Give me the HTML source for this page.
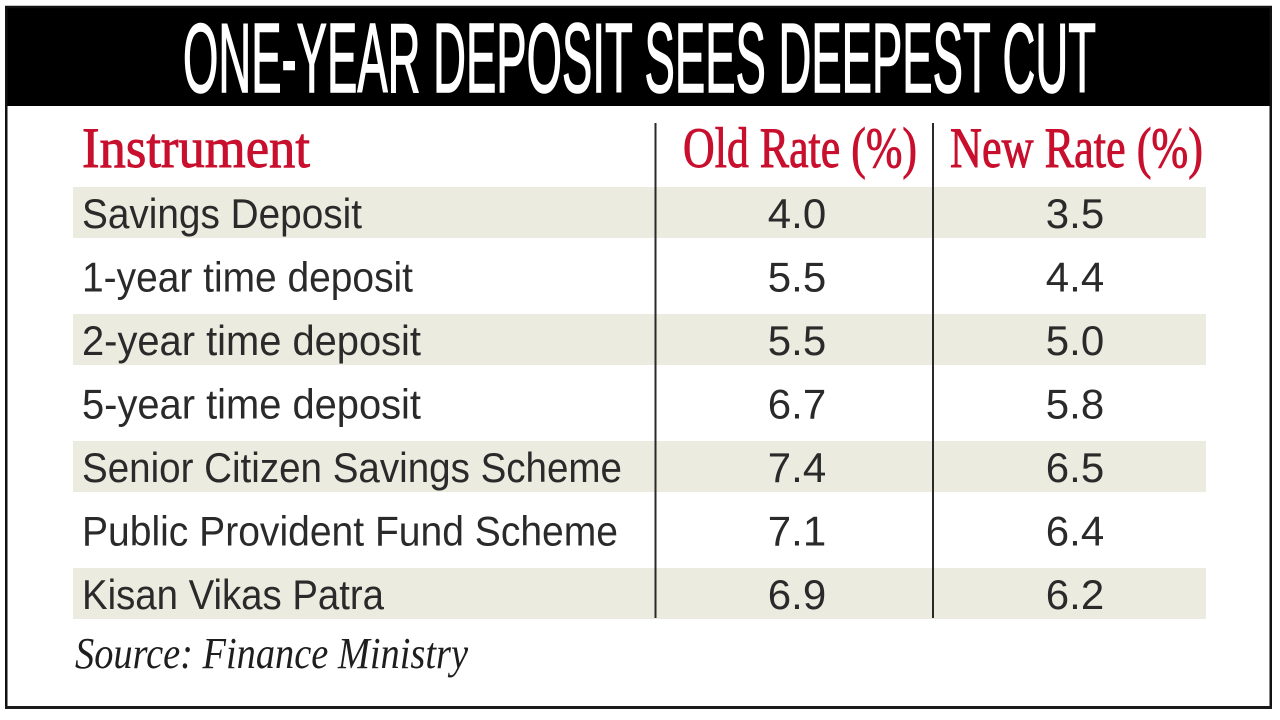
<!DOCTYPE html>
<html>
<head>
<meta charset="utf-8">
<style>
  html, body { margin: 0; padding: 0; background: #fff; }
  body { width: 1280px; height: 720px; overflow: hidden; }
  svg { display: block; }
</style>
</head>
<body>
<svg width="1280" height="720" viewBox="0 0 1280 720" xmlns="http://www.w3.org/2000/svg">
  <rect x="0" y="0" width="1280" height="720" fill="#ffffff"/>
  <!-- header bar -->
  <rect x="5" y="6" width="1267" height="100" fill="#000000"/>
  <text x="183" y="92" font-family="Liberation Sans, sans-serif" font-size="98" fill="#ffffff" stroke="#ffffff" stroke-width="1.6" textLength="913" lengthAdjust="spacingAndGlyphs">ONE-YEAR DEPOSIT SEES DEEPEST CUT</text>

  <!-- stripes -->
  <g fill="#ebebdf">
    <rect x="73" y="187" width="1133" height="51"/>
    <rect x="73" y="314" width="1133" height="51"/>
    <rect x="73" y="441" width="1133" height="51"/>
    <rect x="73" y="568" width="1133" height="51"/>
  </g>

  <!-- header labels -->
  <g font-family="Liberation Serif, serif" font-size="57" fill="#c8102e" stroke="#c8102e" stroke-width="0.9">
    <text x="82" y="167" textLength="228" lengthAdjust="spacingAndGlyphs">Instrument</text>
    <text x="683" y="167" textLength="234" lengthAdjust="spacingAndGlyphs">Old Rate (%)</text>
    <text x="950" y="167" textLength="253" lengthAdjust="spacingAndGlyphs">New Rate (%)</text>
  </g>

  <!-- dividers -->
  <rect x="654.5" y="123" width="2" height="495" fill="#2a2a2a"/>
  <rect x="932" y="123" width="2" height="495" fill="#2a2a2a"/>

  <!-- row labels -->
  <g font-family="Liberation Sans, sans-serif" font-size="42" fill="#2a2a2a">
    <text x="82" y="228" textLength="280" lengthAdjust="spacingAndGlyphs">Savings Deposit</text>
    <text x="82" y="291.5" textLength="331" lengthAdjust="spacingAndGlyphs">1-year time deposit</text>
    <text x="82" y="355" textLength="339" lengthAdjust="spacingAndGlyphs">2-year time deposit</text>
    <text x="82" y="418.5" textLength="339" lengthAdjust="spacingAndGlyphs">5-year time deposit</text>
    <text x="82" y="482" textLength="540" lengthAdjust="spacingAndGlyphs">Senior Citizen Savings Scheme</text>
    <text x="82" y="545.5" textLength="536" lengthAdjust="spacingAndGlyphs">Public Provident Fund Scheme</text>
    <text x="82" y="609" textLength="302" lengthAdjust="spacingAndGlyphs">Kisan Vikas Patra</text>
  </g>

  <!-- old rates -->
  <g font-family="Liberation Sans, sans-serif" font-size="42" fill="#2a2a2a" text-anchor="middle">
    <text x="797" y="228">4.0</text>
    <text x="797" y="291.5">5.5</text>
    <text x="797" y="355">5.5</text>
    <text x="797" y="418.5">6.7</text>
    <text x="797" y="482">7.4</text>
    <text x="797" y="545.5">7.1</text>
    <text x="797" y="609">6.9</text>
  </g>
  <!-- new rates -->
  <g font-family="Liberation Sans, sans-serif" font-size="42" fill="#2a2a2a" text-anchor="middle">
    <text x="1075" y="228">3.5</text>
    <text x="1075" y="291.5">4.4</text>
    <text x="1075" y="355">5.0</text>
    <text x="1075" y="418.5">5.8</text>
    <text x="1075" y="482">6.5</text>
    <text x="1075" y="545.5">6.4</text>
    <text x="1075" y="609">6.2</text>
  </g>

  <!-- source -->
  <text x="75" y="668" font-family="Liberation Serif, serif" font-style="italic" font-size="44" fill="#1e1e1e" textLength="393" lengthAdjust="spacingAndGlyphs">Source: Finance Ministry</text>

  <!-- outer frame -->
  <rect x="6.25" y="7" width="1264.5" height="700.5" fill="none" stroke="#111111" stroke-width="2.5"/>
  <rect x="5" y="706" width="1267" height="3" fill="#1a1a1a"/>
</svg>
</body>
</html>
